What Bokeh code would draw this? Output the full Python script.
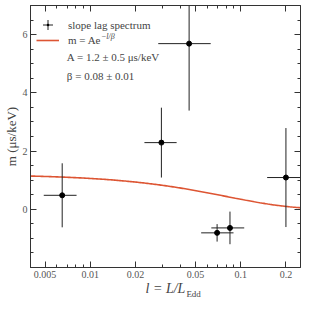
import numpy as np
from bokeh.plotting import figure
from bokeh.models import (LogAxis, LinearAxis, FixedTicker, CustomJSTickFormatter,
                          Legend, LegendItem, Label, ColumnDataSource, Range1d)
from bokeh.embed import file_html
from bokeh.resources import INLINE

# ---- data ----
l_val = [0.0065, 0.0297, 0.0454, 0.0697, 0.0849, 0.2]
l_lo = [0.0049, 0.0229, 0.0283, 0.0546, 0.0638, 0.150]
l_hi = [0.0081, 0.0375, 0.0632, 0.0896, 0.1056, 0.267]
m_val = [0.48, 2.29, 5.69, -0.81, -0.64, 1.09]
m_err = [1.1, 1.2, 2.3, 0.3, 0.56, 1.7]

A_fit = 1.2
beta_fit = 0.08

x_major = [0.005, 0.01, 0.02, 0.05, 0.1, 0.2]
x_minor = [0.004, 0.006, 0.007, 0.008, 0.009, 0.03, 0.04, 0.06, 0.07, 0.08, 0.09]
y_major = [0, 2, 4, 6]
y_minor = [-1.5, -1, -0.5, 0.5, 1, 1.5, 2.5, 3, 3.5, 4.5, 5, 5.5, 6.5]

FONT = "Liberation Serif"
TXT = "#444444"
CURVE = "#dd5533"

m_lo = [v - e for v, e in zip(m_val, m_err)]
m_hi = [v + e for v, e in zip(m_val, m_err)]
src = ColumnDataSource(dict(l=l_val, l_lo=l_lo, l_hi=l_hi, m=m_val, m_lo=m_lo, m_hi=m_hi))

l_fit = np.logspace(np.log10(0.004), np.log10(0.25), 200)
m_fit = A_fit * np.exp(-l_fit / beta_fit)

p = figure(width=305, height=301, x_axis_type="log",
           x_range=Range1d(0.004, 0.25), y_range=Range1d(-2, 7),
           output_backend="svg", toolbar_location=None,
           min_border_left=29, min_border_right=5, min_border_top=5, min_border_bottom=0)
p.grid.visible = False
p.outline_line_color = "#333333"
p.background_fill_color = "white"
p.border_fill_color = "white"

xt = FixedTicker(ticks=x_major, minor_ticks=x_minor)
yt = FixedTicker(ticks=y_major, minor_ticks=y_minor)
fmt = CustomJSTickFormatter(code="return String(tick)")


def style_axis(ax, show_labels):
    ax.major_tick_in = 6
    ax.major_tick_out = 0
    ax.minor_tick_in = 3
    ax.minor_tick_out = 0
    ax.axis_line_color = "#333333"
    ax.major_tick_line_color = "#333333"
    ax.minor_tick_line_color = "#333333"
    if show_labels:
        ax.major_label_text_font = FONT
        ax.major_label_text_font_size = "10px"
        ax.major_label_text_color = "#555555"
        ax.major_label_standoff = 3
    else:
        ax.major_label_text_font_size = "1px"
        ax.major_label_text_color = None
        ax.major_label_standoff = 0


xb = p.xaxis[0]
xb.ticker = xt
xb.formatter = fmt
style_axis(xb, True)
xb.axis_label = "l = L/L"
xb.axis_label_text_font = FONT
xb.axis_label_text_font_size = "14px"
xb.axis_label_text_font_style = "italic"
xb.axis_label_text_color = TXT
xb.axis_label_standoff = 0

# second (tick-less) bottom axis that only carries the subscript of the x title
xs = LogAxis(ticker=FixedTicker(ticks=[], minor_ticks=[]),
             axis_label="\u00a0" * 25 + "Edd", axis_label_text_font=FONT,
             axis_label_text_font_size="9px",
             axis_label_text_font_style="normal", axis_label_text_color=TXT,
             axis_label_standoff=-10, axis_line_color=None,
             major_tick_line_color=None, minor_tick_line_color=None,
             major_label_text_font_size="1px", major_label_text_color=None,
             major_label_standoff=0, major_tick_out=0, minor_tick_out=0)
p.add_layout(xs, "below")

yl = p.yaxis[0]
yl.ticker = yt
style_axis(yl, True)
yl.axis_label = "m (μs/keV)"
yl.axis_label_text_font = FONT
yl.axis_label_text_font_size = "13px"
yl.axis_label_text_font_style = "normal"
yl.axis_label_text_color = TXT
yl.axis_label_standoff = 1
yl.major_label_standoff = 3

xa = LogAxis(ticker=xt, formatter=fmt)
style_axis(xa, False)
p.add_layout(xa, "above")
yr = LinearAxis(ticker=yt)
style_axis(yr, False)
p.add_layout(yr, "right")

# model curve
curve = p.line(l_fit, m_fit, line_color=CURVE, line_width=1.6)

# error bars and points
p.segment(x0="l", y0="m_lo", x1="l", y1="m_hi", source=src, line_color="#222222", line_width=1)
p.segment(x0="l_lo", y0="m", x1="l_hi", y1="m", source=src, line_color="#222222", line_width=1)
pts = p.scatter(x="l", y="m", source=src, marker="circle", size=5,
                fill_color="black", line_color="black")

# legend-only glyphs: zero-size markers on the same data (legend sizes its own glyphs)
cross_leg = p.scatter(x="l", y="m", source=src, marker="cross", size=0,
                      line_color="#222222", line_width=1)
dot_leg = p.scatter(x="l", y="m", source=src, marker="dot", size=0, line_color="black")

leg_a = Legend(items=[LegendItem(label="slope lag spectrum", renderers=[cross_leg, dot_leg])],
               location="top_left", margin=5, padding=0, spacing=0,
               glyph_width=25, glyph_height=29, label_height=29, label_standoff=8,
               label_text_font=FONT, label_text_font_size="11px", label_text_color=TXT,
               border_line_alpha=0, background_fill_alpha=0)
leg_b = Legend(items=[LegendItem(label="m = Ae", renderers=[curve])],
               location="top_left", margin=6, padding=0, spacing=0,
               glyph_width=23, glyph_height=58, label_height=58, label_standoff=9,
               label_text_font=FONT, label_text_font_size="11px", label_text_color=TXT,
               border_line_alpha=0, background_fill_alpha=0)
p.add_layout(leg_a)
p.add_layout(leg_b)

p.add_layout(Label(x=0.01176, y=5.95, text="−l/β",
                   text_font=FONT, text_font_size="8px", text_font_style="italic",
                   text_color=TXT, text_baseline="middle"))
p.add_layout(Label(x=0.00698, y=5.22, text="A = 1.2 ± 0.5 μs/keV",
                   text_font=FONT, text_font_size="11px", text_color=TXT, text_baseline="middle"))
p.add_layout(Label(x=0.00698, y=4.58, text="β = 0.08 ± 0.01",
                   text_font=FONT, text_font_size="11px", text_color=TXT, text_baseline="middle"))

open("out.html", "w").write(file_html(p, INLINE))
